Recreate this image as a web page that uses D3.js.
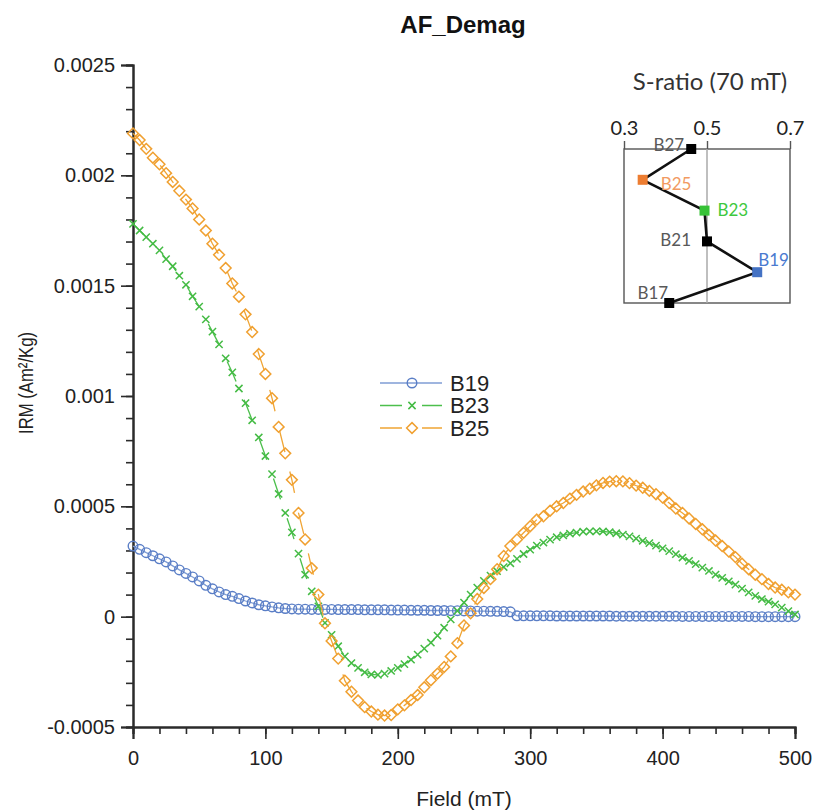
<!DOCTYPE html>
<html>
<head>
<meta charset="utf-8">
<script src="https://cdn.jsdelivr.net/npm/d3@7"></script>
<style>
body { margin: 0; background: #fff; }
svg { font-family: "Liberation Sans", Arial, sans-serif; }
</style>
</head>
<body>
<div id="chart-box"></div>
<script>
// Field steps (mT)
const fieldMT = [0,5,10,15,20,25,30,35,40,45,50,55,60,65,70,75,80,85,90,95,
100,105,110,115,120,125,130,135,140,145,150,155,160,165,170,175,180,185,190,195,
200,205,210,215,220,225,230,235,240,245,250,255,260,265,270,275,280,285,290,295,
300,305,310,315,320,325,330,335,340,345,350,355,360,365,370,375,380,385,390,395,
400,405,410,415,420,425,430,435,440,445,450,455,460,465,470,475,480,485,490,495,500];

// IRM values (Am2/Kg)
const irmB19 = [0.000320,0.000305,0.000290,0.000276,0.000262,0.000248,0.000230,0.000212,0.000196,0.000180,
0.000162,0.000142,0.000126,0.000112,0.000100,0.000092,0.000082,0.000071,0.000062,0.000054,
0.000049,0.000044,0.000040,0.000037,0.000035,0.000034,0.000034,0.000033,0.000033,0.000033,
0.000033,0.000032,0.000032,0.000032,0.000032,0.000031,0.000031,0.000031,0.000031,0.000030,
0.000030,0.000030,0.000029,0.000029,0.000029,0.000028,0.000028,0.000028,0.000027,0.000027,
0.000026,0.000026,0.000025,0.000025,0.000024,0.000024,0.000023,0.000022,0.000004,0.000004,
0.000004,0.000004,0.000004,0.000004,0.000003,0.000003,0.000003,0.000003,0.000003,0.000003,
0.000003,0.000003,0.000003,0.000002,0.000002,0.000002,0.000002,0.000002,0.000002,0.000002,
0.000002,0.000002,0.000002,0.000001,0.000001,0.000001,0.000001,0.000001,0.000001,0.000001,
0.000001,0.000001,0.000001,0.000001,0,0,0,0,0,0,0];

const irmB23 = [0.001780,0.001750,0.001720,0.001690,0.001660,0.001620,0.001588,0.001545,0.001504,0.001452,
0.001405,0.001347,0.001292,0.001234,0.001171,0.001107,0.001034,0.000968,0.000890,0.000812,
0.000728,0.000646,0.000556,0.000470,0.000382,0.000286,0.000190,0.000115,0.000047,-0.000028,
-0.000082,-0.000134,-0.000180,-0.000210,-0.000232,-0.000252,-0.000262,-0.000264,-0.000258,-0.000246,
-0.000232,-0.000215,-0.000195,-0.000172,-0.000145,-0.000118,-0.000086,-0.000050,-0.000012,0.000026,
0.000064,0.000100,0.000132,0.000162,0.000186,0.000206,0.000225,0.000242,0.000262,0.000284,
0.000304,0.000322,0.000336,0.000349,0.000360,0.000368,0.000376,0.000381,0.000385,0.000387,
0.000387,0.000386,0.000383,0.000378,0.000372,0.000364,0.000354,0.000344,0.000333,0.000322,
0.000310,0.000297,0.000283,0.000268,0.000253,0.000238,0.000222,0.000207,0.000191,0.000176,
0.000160,0.000145,0.000127,0.000110,0.000094,0.000080,0.000068,0.000056,0.000041,0.000025,0.000010];

const irmB25 = [0.002190,0.002160,0.002120,0.002080,0.002050,0.002010,0.001970,0.001930,0.001890,0.001850,
0.001800,0.001750,0.001690,0.001640,0.001580,0.001510,0.001450,0.001370,0.001290,0.001190,
0.001100,0.000990,0.000860,0.000740,0.000620,0.000470,0.000350,0.000220,0.000100,-0.000030,
-0.000110,-0.000190,-0.000290,-0.000340,-0.000380,-0.000410,-0.000430,-0.000444,-0.000448,-0.000446,
-0.000420,-0.000402,-0.000378,-0.000355,-0.000320,-0.000288,-0.000258,-0.000228,-0.000180,-0.000120,
-0.000040,0.000015,0.000080,0.000130,0.000170,0.000215,0.000275,0.000320,0.000350,0.000380,
0.000410,0.000440,0.000455,0.000480,0.000500,0.000515,0.000535,0.000552,0.000567,0.000580,
0.000595,0.000606,0.000612,0.000614,0.000613,0.000605,0.000594,0.000584,0.000570,0.000555,
0.000540,0.000515,0.000490,0.000470,0.000445,0.000420,0.000396,0.000370,0.000345,0.000320,
0.000295,0.000270,0.000240,0.000215,0.000190,0.000170,0.000148,0.000132,0.000122,0.000110,0.000100];

const seriesNames = ["B19", "B23", "B25"];
const xTicks = [0, 100, 200, 300, 400, 500];
const yTicks = [-0.0005, 0, 0.0005, 0.001, 0.0015, 0.002, 0.0025];

// Inset: S-ratio (70 mT)
const insetSamples = ["B27", "B25", "B23", "B21", "B19", "B17"];
const insetSRatio = [0.462, 0.345, 0.494, 0.500, 0.621, 0.409];
const insetTicks = [0.3, 0.5, 0.7];

const chart =
{
	draw: function ()
	{
		const w = 813;
		const h = 810;
		const m = {left: 133, right: 795, top: 65, bottom: 727};

		const svg = d3.select("#chart-box")
		.append("svg")
		.attr("width", w)
		.attr("height", h);

		//Scale X axis
		const xScale = d3.scaleLinear().domain([0, 500]).range([m.left, m.right]);
		//Scale Y axis
		const yScale = d3.scaleLinear().domain([-0.0005, 0.0025]).range([m.bottom, m.top]);

		// minor ticks first
		svg.append("g")
		.attr("class", "minor")
		.attr("transform", "translate(0," + m.bottom + ")")
		.call(d3.axisBottom(xScale).tickValues(xScale.ticks(25)).tickSize(7).tickFormat(""));
		svg.append("g")
		.attr("class", "minor")
		.attr("transform", "translate(" + m.left + ",0)")
		.call(d3.axisLeft(yScale).tickValues(yScale.ticks(30)).tickSize(7).tickFormat(""));

		// X axis
		svg.append("g")
		.attr("id", "x-axis")
		.attr("transform", "translate(0," + m.bottom + ")")
		.call(d3.axisBottom(xScale).tickValues(xTicks).tickSize(12).tickPadding(12).tickFormat(d3.format("d")));
		// Y axis
		svg.append("g")
		.attr("id", "y-axis")
		.attr("transform", "translate(" + m.left + ",0)")
		.call(d3.axisLeft(yScale).tickValues(yTicks).tickSize(12).tickPadding(6)
			.tickFormat((d) => d === 0 ? "0" : String(+d.toFixed(4))));

		svg.selectAll(".domain").attr("stroke", "#2b2b2b").attr("stroke-width", 2);
		svg.selectAll(".tick line").attr("stroke", "#2b2b2b").attr("stroke-width", 1.6);
		svg.selectAll(".tick text")
		.attr("font-size", 20)
		.attr("fill", "#222")
		.attr("font-family", "Liberation Sans, Arial, sans-serif");

		// titles
		svg.append("text")
		.attr("x", 463).attr("y", 33)
		.attr("text-anchor", "middle")
		.attr("font-size", 24).attr("font-weight", "bold").attr("fill", "#111")
		.text("AF_Demag");
		svg.append("text")
		.attr("x", 464).attr("y", 806)
		.attr("text-anchor", "middle")
		.attr("font-size", 21).attr("fill", "#222")
		.text("Field (mT)");
		svg.append("text")
		.attr("transform", "translate(33,383) rotate(-90)")
		.attr("text-anchor", "middle")
		.attr("font-size", 21).attr("fill", "#222")
		.attr("textLength", 102).attr("lengthAdjust", "spacingAndGlyphs")
		.text("IRM (Am²/Kg)");

		this.plotSeries(svg, xScale, yScale);
		this.plotLegend(svg);
		this.plotInset(svg);
	},
	style:
	{
		B19: {line: "#7f9dd4", mark: "#5a7ec6", dash: null, shape: "circle"},
		B23: {line: "#4cbf4c", mark: "#44bb44", dash: "22,20", shape: "cross"},
		B25: {line: "#f0a535", mark: "#f0a030", dash: "22,20", shape: "diamond"}
	},
	marker: function (sel, shape, color)
	{
		if (shape === "circle")
		{
			sel.append("circle").attr("r", 4.8)
			.attr("fill", "none").attr("stroke", color).attr("stroke-width", 1.4);
		}
		else if (shape === "diamond")
		{
			sel.append("path").attr("d", "M0,-5.4L5.4,0L0,5.4L-5.4,0Z")
			.attr("fill", "none").attr("stroke", color).attr("stroke-width", 1.5);
		}
		else
		{
			sel.append("path").attr("d", "M-3.6,-3.6L3.6,3.6M-3.6,3.6L3.6,-3.6")
			.attr("fill", "none").attr("stroke", color).attr("stroke-width", 1.5);
		}
	},
	plotSeries: function (svg, xScale, yScale)
	{
		const seriesData = {B19: irmB19, B23: irmB23, B25: irmB25};
		const line = d3.line()
		.x((d) => xScale(d.f))
		.y((d) => yScale(d.v));

		// draw blue first, then green, orange on top
		seriesNames.forEach((name) =>
		{
			const st = this.style[name];
			const pts = fieldMT.map((f, i) => ({f: f, v: seriesData[name][i]}));
			const g = svg.append("g").attr("class", "series-" + name);
			g.append("path")
			.datum(pts)
			.attr("d", line)
			.attr("fill", "none")
			.attr("stroke", st.line)
			.attr("stroke-width", 1.3)
			.attr("stroke-dasharray", st.dash);
			const marks = g.selectAll("g.pt")
			.data(pts)
			.enter()
			.append("g")
			.attr("class", "pt")
			.attr("transform", (d) => "translate(" + xScale(d.f) + "," + yScale(d.v) + ")");
			this.marker(marks, st.shape, st.mark);
		});
	},
	plotLegend: function (svg)
	{
		const legend = svg.selectAll(".legend")
		.data(seriesNames)
		.enter().append("g")
		.attr("class", "legend")
		.attr("transform", (d, i) => "translate(380," + (383 + i * 22.5) + ")");

		legend.append("line")
		.attr("x1", 0).attr("x2", 62)
		.attr("stroke", (d) => this.style[d].line)
		.attr("stroke-width", 1.5)
		.attr("stroke-dasharray", (d) => this.style[d].dash);

		const self = this;
		legend.each(function (d)
		{
			const mk = d3.select(this).append("g").attr("transform", "translate(32,0)");
			self.marker(mk, self.style[d].shape, self.style[d].mark);
		});

		legend.append("text")
		.attr("x", 70)
		.attr("y", 0)
		.attr("dy", ".35em")
		.attr("font-size", 22)
		.attr("fill", "#222")
		.text((d) => d);
	},
	plotInset: function (svg)
	{
		const box = {left: 624, right: 790, top: 149, bottom: 303};
		const insetColor = {B25: "#ed7d31", B23: "#36c236", B19: "#4472c4"};
		const labelColor = {B25: "#f29a62", B23: "#3ec83e", B19: "#4a7ad0"};
		// label placement (offset from the point, anchor)
		const labelPos = {
			B27: {dx: -7, dy: -4, anchor: "end"},
			B25: {dx: 18, dy: 4, anchor: "start"},
			B23: {dx: 13, dy: -1, anchor: "start"},
			B21: {dx: -16, dy: -1, anchor: "end"},
			B19: {dx: 1, dy: -12, anchor: "start"},
			B17: {dx: -1, dy: -10, anchor: "end"}
		};
		const ff = "Lato, 'Open Sans', sans-serif";

		const xIn = d3.scaleLinear().domain([0.3, 0.7]).range([box.left, box.right]);
		const yIn = d3.scalePoint().domain(insetSamples).range([box.top, box.bottom]);

		const g = svg.append("g").attr("class", "inset");

		g.append("text")
		.attr("x", 710).attr("y", 90)
		.attr("text-anchor", "middle")
		.attr("font-family", ff)
		.attr("font-size", 24)
		.attr("fill", "#333")
		.text("S-ratio (70 mT)");

		// frame
		g.append("rect")
		.attr("x", box.left).attr("y", box.top)
		.attr("width", box.right - box.left).attr("height", box.bottom - box.top)
		.attr("fill", "none").attr("stroke", "#555").attr("stroke-width", 1.4);
		// reference line at 0.5
		g.append("line")
		.attr("x1", xIn(0.5)).attr("x2", xIn(0.5))
		.attr("y1", box.top).attr("y2", box.bottom)
		.attr("stroke", "#aaa").attr("stroke-width", 1.5);

		// top axis
		const topAxis = g.append("g")
		.attr("transform", "translate(0," + box.top + ")")
		.call(d3.axisTop(xIn).tickValues(insetTicks).tickSize(8).tickPadding(6).tickFormat(d3.format(".1f")));
		topAxis.select(".domain").remove();
		topAxis.selectAll(".tick line").attr("stroke", "#555").attr("stroke-width", 1.4);
		topAxis.selectAll(".tick text")
		.attr("font-family", ff).attr("font-size", 20).attr("fill", "#222");

		const pts = insetSamples.map((s, i) => ({s: s, v: insetSRatio[i]}));

		g.append("path")
		.datum(pts)
		.attr("d", d3.line().x((d) => xIn(d.v)).y((d) => yIn(d.s)))
		.attr("fill", "none")
		.attr("stroke", "#111")
		.attr("stroke-width", 2.6);

		g.selectAll(".sq")
		.data(pts)
		.enter().append("rect")
		.attr("class", "sq")
		.attr("x", (d) => xIn(d.v) - 5)
		.attr("y", (d) => yIn(d.s) - 5)
		.attr("width", 10).attr("height", 10)
		.attr("fill", (d) => insetColor[d.s] || "#000");

		g.selectAll(".lbl")
		.data(pts)
		.enter().append("text")
		.attr("class", "lbl")
		.attr("x", (d) => xIn(d.v) + labelPos[d.s].dx)
		.attr("y", (d) => yIn(d.s) + labelPos[d.s].dy)
		.attr("dy", ".35em")
		.attr("text-anchor", (d) => labelPos[d.s].anchor)
		.attr("font-family", ff)
		.attr("font-size", 17)
		.attr("fill", (d) => labelColor[d.s] || "#595959")
		.text((d) => d.s);
	}
};

document.addEventListener("DOMContentLoaded", function ()
{
	chart.draw();
});
</script>
</body>
</html>
